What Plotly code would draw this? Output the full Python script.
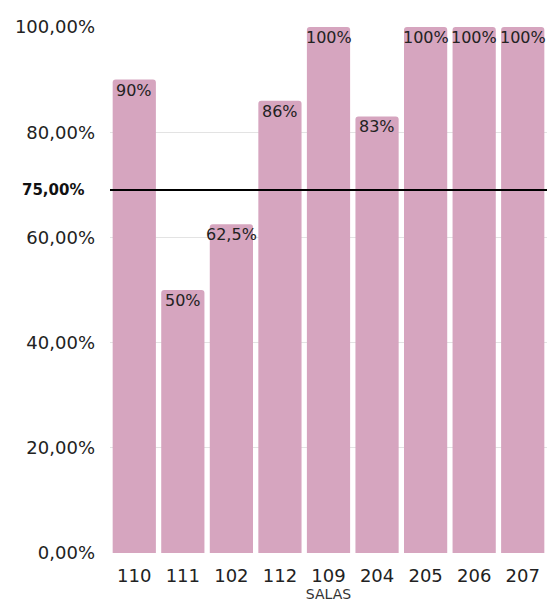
import plotly.graph_objects as go

# Occupancy per room
salas = ["110", "111", "102", "112", "109", "204", "205", "206", "207"]
ocupacao = [90, 50, 62.5, 86, 100, 83, 100, 100, 100]

# Target reference line (drawn on its own overlaid scale)
meta = 75
meta_escala_max = 108.7

y_ticks = [0, 20, 40, 60, 80, 100]
y_tick_text = ["0,00%", "20,00%", "40,00%", "60,00%", "80,00%", "100,00%"]

BAR_COLOR = "#D6A5BF"
FONT = "DejaVu Sans"

pos = list(range(len(salas)))


def pct_label(v):
    s = f"{v:g}".replace(".", ",")
    return s + "%"


fig = go.Figure()
fig.add_trace(go.Bar(
    x=pos,
    y=ocupacao,
    width=0.89,
    marker=dict(color=BAR_COLOR, line=dict(width=0), cornerradius=3),
    hoverinfo="skip",
))

# Value labels at the top inside each bar
for p, v in zip(pos, ocupacao):
    fig.add_annotation(
        x=p, y=v, xref="x", yref="y",
        text=pct_label(v), showarrow=False,
        yanchor="top", xanchor="center", yshift=1,
        font=dict(family=FONT, size=16, color="#222222"),
    )

# Target line
fig.add_shape(
    type="line", xref="paper", yref="y2",
    x0=0, x1=1, y0=meta, y1=meta,
    line=dict(color="black", width=2),
)
fig.add_annotation(
    xref="paper", yref="y2", x=-0.056, y=meta,
    text="<b>" + f"{meta:.2f}".replace(".", ",") + "%</b>",
    showarrow=False, xanchor="right", yanchor="middle",
    font=dict(family=FONT, size=15, color="#111111"),
)

fig.update_layout(
    width=547, height=606,
    margin=dict(l=110, r=0, t=27, b=53),
    paper_bgcolor="white", plot_bgcolor="white",
    showlegend=False,
    font=dict(family=FONT, color="#222222"),
    xaxis=dict(
        range=[-0.5, len(salas) - 0.5],
        tickvals=pos, ticktext=salas,
        tickfont=dict(size=18, color="#222222"),
        showgrid=False, showline=False, ticks="", zeroline=False,
        ticklabelstandoff=10,
        title=dict(text="SALAS", font=dict(size=14, color="#333333"), standoff=2),
    ),
    yaxis=dict(
        range=[0, 100],
        tickvals=y_ticks, ticktext=y_tick_text,
        tickfont=dict(size=18, color="#222222"),
        showgrid=True, gridcolor="#E3E3E3", gridwidth=1,
        zeroline=False, showline=False, ticks="",
        ticklabelstandoff=14,
    ),
    yaxis2=dict(
        range=[0, meta_escala_max],
        overlaying="y", side="right",
        visible=False, showgrid=False,
    ),
)

fig.write_html("out.html")
